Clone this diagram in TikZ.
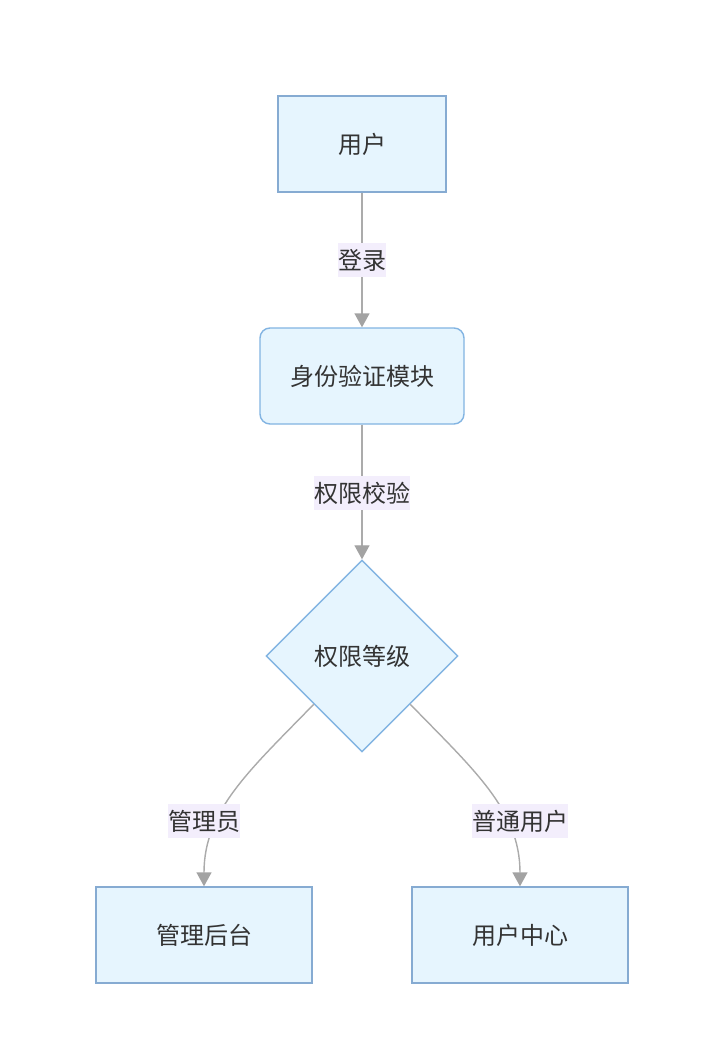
\documentclass[tikz,border=0pt]{standalone}
\usepackage{fontspec}
\setmainfont{Noto Sans CJK SC}
\usetikzlibrary{shapes.geometric,arrows.meta}
\definecolor{nodefill}{HTML}{E6F5FE}
\definecolor{nodeline}{HTML}{86ABD2}
\definecolor{roundline}{HTML}{82B4E2}
\definecolor{edgeline}{HTML}{ABABAB}
\definecolor{tipfill}{HTML}{A3A3A3}
\definecolor{lblfill}{HTML}{F3EEFC}
\definecolor{txt}{HTML}{333333}
\tikzset{
  x=1pt, y=-1pt,
  every node/.style={text=txt, font=\fontsize{24}{28}\selectfont},
  boxnode/.style={draw=nodeline, fill=nodefill, line width=1.4pt, minimum height=96pt, inner sep=0pt},
  roundnode/.style={draw=roundline, fill=nodefill, line width=1.4pt, rounded corners=10pt, minimum height=96pt, inner sep=0pt},
  decnode/.style={draw=roundline, fill=nodefill, line width=1.4pt, diamond, aspect=1, minimum width=192pt, minimum height=192pt, inner sep=0pt},
  edge/.style={draw=edgeline, line width=1.4pt, -{Triangle[width=15pt,length=14pt,fill=tipfill,color=tipfill]}},
  lbl/.style={fill=lblfill, inner xsep=0pt, inner ysep=6pt}
}
\begin{document}
\begin{tikzpicture}
\useasboundingbox[fill=white] (0,0) rectangle (722,1062);
\node[boxnode, minimum width=168pt] (user) at (362,144) {用户};
\node[roundnode, minimum width=204pt] (auth) at (362,376) {身份验证模块};
\node[decnode] (level) at (362,656) {权限等级};
\node[boxnode, minimum width=216pt] (admin) at (204,935) {管理后台};
\node[boxnode, minimum width=216pt] (center) at (520,935) {用户中心};

\draw[edge] (user) -- (auth);
\draw[edge] (auth) -- (level);
\draw[edge] (level.south west) .. controls (250,770) and (204,810) .. (admin.north);
\draw[edge] (level.south east) .. controls (474,770) and (520,810) .. (center.north);

\node[lbl] (l1) at (362,260) {登录};
\node[lbl] (l2) at (362,493) {权限校验};
\node[lbl] (l3) at (204,821) {管理员};
\node[lbl] (l4) at (520,821) {普通用户};
\end{tikzpicture}
\end{document}
